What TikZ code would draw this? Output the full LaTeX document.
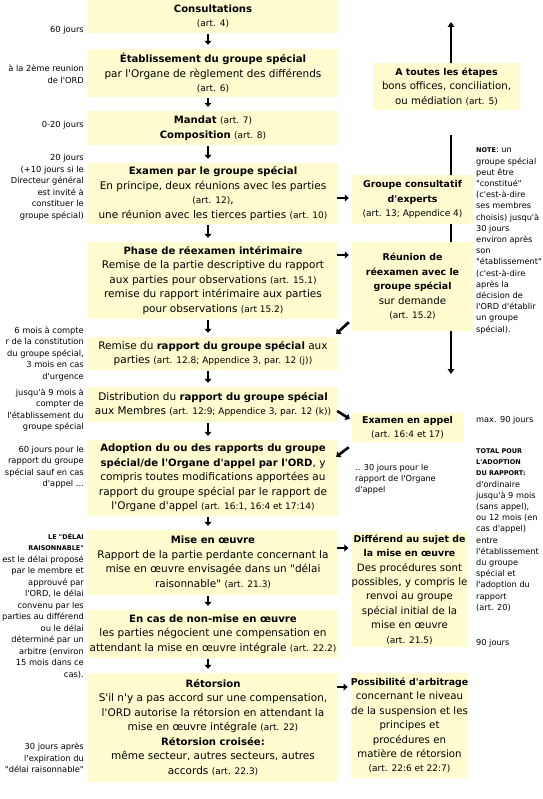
\documentclass[tikz,border=0pt]{standalone}
\usepackage{fontspec}
\setmainfont{DejaVu Sans}[Ligatures=TeXOff]
\usetikzlibrary{arrows.meta,calc}
\definecolor{boxfill}{HTML}{FFFDD0}
\newcommand\artref[1]{{\fontsize{9}{10}\selectfont #1}}
\newcommand\boxtitle[1]{{\fontsize{10.1}{14.5}\selectfont\bfseries #1}}
\newcommand\sidetitle[1]{{\fontsize{9.4}{14.4}\selectfont\bfseries #1}}
\newcommand\annbold[1]{{\fontsize{6.5}{8}\selectfont\bfseries #1}}
\tikzset{
  mainbox/.style={fill=boxfill, inner xsep=0pt, inner ysep=0pt, align=center,
    minimum width=250pt, font=\fontsize{10.5}{14.5}\selectfont},
  sidebox/.style={fill=boxfill, inner xsep=0pt, inner ysep=0pt, align=center,
    font=\fontsize{10.2}{14.4}\selectfont},
  ann/.style={inner sep=0pt, align=right, anchor=east, font=\fontsize{8.3}{11.5}\selectfont},
  annr/.style={inner sep=0pt, align=left, anchor=west, font=\fontsize{8.2}{11.2}\selectfont},
  flowarrow/.style={line width=2.6pt, -{Triangle[length=4pt,width=7pt]}},
  longarrow/.style={line width=2.8pt, -{Triangle[length=5pt,width=6.5pt]}},
}
\begin{document}
\begin{tikzpicture}[x=1pt,y=-1pt]
\useasboundingbox (0,0) rectangle (542,799);

% long vertical line behind the side boxes
\coordinate (vtop) at (451,22);
\coordinate (vmid) at (451,135);
\coordinate (vbot) at (451,374);
\draw[longarrow] (vmid) -- (vbot);

% main column
\node[mainbox, minimum height=33pt] (cons) at (213,16.5)
  {\boxtitle{Consultations}\\ \artref{(art. 4)}};
\node[mainbox, minimum height=48pt] (etab) at (213,73)
  {\boxtitle{Établissement du groupe spécial}\\ par l'Organe de règlement des différends\\ \artref{(art. 6)}};
\node[mainbox, minimum height=34pt] (mand) at (213,128)
  {\boxtitle{Mandat} \artref{(art. 7)}\\ \boxtitle{Composition} \artref{(art. 8)}};
\node[mainbox, minimum height=61pt] (exam) at (213,193.5)
  {\boxtitle{Examen par le groupe spécial}\\ En principe, deux réunions avec les parties\\ \artref{(art. 12)},\\ une réunion avec les tierces parties \artref{(art. 10)}};
\node[mainbox, minimum height=77pt] (phase) at (213,280.5)
  {\boxtitle{Phase de réexamen intérimaire}\\ Remise de la partie descriptive du rapport\\ aux parties pour observations \artref{(art. 15.1)}\\ remise du rapport intérimaire aux parties\\ pour observations \artref{(art 15.2)}};
\node[mainbox, minimum height=33pt] (remise) at (213,353.5)
  {Remise du \boxtitle{rapport du groupe spécial} aux\\ parties \artref{(art. 12.8; Appendice 3, par. 12 (j))}};
\node[mainbox, minimum height=35pt] (distr) at (213,404.5)
  {Distribution du \boxtitle{rapport du groupe spécial}\\ aux Membres \artref{(art. 12:9; Appendice 3, par. 12 (k))}};
\node[mainbox, minimum height=76pt] (adopt) at (213,478)
  {\boxtitle{Adoption du ou des rapports du groupe}\\ \boxtitle{spécial/de l'Organe d'appel par l'ORD}, y\\ compris toutes modifications apportées au\\ rapport du groupe spécial par le rapport de\\ l'Organe d'appel \artref{(art. 16:1, 16:4 et 17:14)}};
\node[mainbox, minimum height=65pt] (mise) at (213,562.5)
  {\boxtitle{Mise en œuvre}\\ Rapport de la partie perdante concernant la\\ mise en œuvre envisagée dans un "délai\\ raisonnable" \artref{(art. 21.3)}};
\node[mainbox, minimum height=48pt] (nonmise) at (213,634)
  {\boxtitle{En cas de non-mise en œuvre}\\ les parties négocient une compensation en\\ attendant la mise en œuvre intégrale \artref{(art. 22.2)}};
\node[mainbox, minimum height=109pt] (retor) at (213,727.5)
  {\boxtitle{Rétorsion}\\ S'il n'y a pas accord sur une compensation,\\ l'ORD autorise la rétorsion en attendant la\\ mise en œuvre intégrale \artref{(art. 22)}\\ \boxtitle{Rétorsion croisée:}\\ même secteur, autres secteurs, autres\\ accords \artref{(art. 22.3)}};

% side column
\node[sidebox, minimum width=147pt, minimum height=47pt] (atout) at (446.5,86.5)
  {\sidetitle{A toutes les étapes}\\ bons offices, conciliation,\\ ou médiation \artref{(art. 5)}};
\node[sidebox, minimum width=121pt, minimum height=49pt] (grpc) at (412.5,199.5)
  {\sidetitle{Groupe consultatif}\\ \sidetitle{d'experts}\\ \artref{(art. 13; Appendice 4)}};
\node[sidebox, minimum width=121pt, minimum height=89pt] (reun) at (412.5,286.5)
  {\sidetitle{Réunion de}\\ \sidetitle{réexamen avec le}\\ \sidetitle{groupe spécial}\\ sur demande\\ \artref{(art. 15.2)}};
\node[sidebox, minimum width=111pt, minimum height=29pt] (appel) at (407.5,427.5)
  {\sidetitle{Examen en appel}\\ \artref{(art. 16:4 et 17)}};
\node[sidebox, minimum width=115pt, minimum height=115pt] (diff) at (409.5,589.5)
  {\sidetitle{Différend au sujet de}\\ \sidetitle{la mise en œuvre}\\ Des procédures sont\\ possibles, y compris le\\ renvoi au groupe\\ spécial initial de la\\ mise en œuvre\\ \artref{(art. 21.5)}};
\node[sidebox, minimum width=115pt, minimum height=105pt] (poss) at (409.5,725.5)
  {\sidetitle{Possibilité d'arbitrage}\\ concernant le niveau\\ de la suspension et les\\ principes et\\ procédures en\\ matière de rétorsion\\ \artref{(art. 22:6 et 22:7)}};

\draw[longarrow] (atout.north -| vtop) -- (vtop);

% main flow arrows
\foreach \a/\b in {cons/etab, etab/mand, mand/exam, exam/phase, phase/remise,
  remise/distr, distr/adopt, adopt/mise, mise/nonmise, nonmise/retor}
  \draw[flowarrow] ([xshift=-5pt,yshift=-1pt]\a.south) -- ([xshift=-5pt,yshift=4pt]\b.north);

% side arrows
\coordinate (yA) at (0,198);
\coordinate (yB) at (0,255);
\coordinate (yC) at (0,548);
\coordinate (yD) at (0,687);
\draw[flowarrow, shorten <=-1pt, shorten >=3pt] (exam.east |- yA) -- (grpc.west |- yA);
\draw[flowarrow, shorten <=-1pt, shorten >=3pt] (phase.east |- yB) -- (reun.west |- yB);
\draw[flowarrow, shorten <=-1pt, shorten >=3pt] (mise.east |- yC) -- (diff.west |- yC);
\draw[flowarrow, shorten <=-1pt, shorten >=3pt] (retor.east |- yD) -- (poss.west |- yD);
\draw[flowarrow] ($(reun.south west)+(-3,-9)$) -- ($(remise.north east)+(-2,-3)$);
\draw[flowarrow] ($(distr.east)+(-1,6.5)$) -- ($(appel.west)+(-2,-8.5)$);
\draw[flowarrow] ($(appel.south west)+(-3,5)$) -- ($(adopt.north east)+(-2,17)$);

% left annotations
\node[ann] (n60) at (84,30) {60 jours};
\node[ann] (n2eme) at (84,74) {à la 2ème reunion\\de l'ORD};
\node[ann] (n020) at (84,125) {0-20 jours};
\node[ann] (n20) at (84,187) {20 jours\\(+10 jours si le\\Directeur général\\est invité à\\constituer le\\groupe spécial)};
\node[ann] (n6m) at (84,354) {6 mois à compte\\r de la constitution\\du groupe spécial,\\3 mois en cas\\d'urgence};
\node[ann] (n9m) at (84,410) {jusqu'à 9 mois à\\compter de\\l'établissement du\\groupe spécial};
\node[ann] (n60b) at (84,467) {60 jours pour le\\rapport du groupe\\spécial sauf en cas\\d'appel ...};
\node[ann] (ndelai) at (84,606) {\annbold{LE "DÉLAI}\\\annbold{RAISONNABLE"}\\est le délai proposé\\par le membre et\\approuvé par\\l'ORD, le délai\\convenu par les\\parties au différend\\ou le délai\\déterminé par un\\arbitre (environ\\15 mois dans ce\\cas).};
\node[ann] (n30) at (84,758) {30 jours après\\l'expiration du\\"délai raisonnable"};

% right annotations
\node[annr] (note) at (476,241) {\annbold{NOTE}: un\\groupe spécial\\peut être\\"constitué"\\(c'est-à-dire\\ses membres\\choisis) jusqu'à\\30 jours\\environ après\\son\\"établissement"\\(c'est-à-dire\\après la\\décision de\\l'ORD d'établir\\un groupe\\spécial).};
\node[annr] (max90) at (476,420) {max. 90 jours};
\node[annr] (total) at (476,530) {\annbold{TOTAL POUR}\\\annbold{L'ADOPTION}\\\annbold{DU RAPPORT:}\\d'ordinaire\\jusqu'à 9 mois\\(sans appel),\\ou 12 mois (en\\cas d'appel)\\entre\\l'établissement\\du groupe\\spécial et\\l'adoption du\\rapport\\(art. 20)};
\node[annr] (n90) at (476,643) {90 jours};
\node[annr] (n30appel) at (355,479) {.. 30 jours pour le\\rapport de l'Organe\\d'appel};
\end{tikzpicture}
\end{document}
